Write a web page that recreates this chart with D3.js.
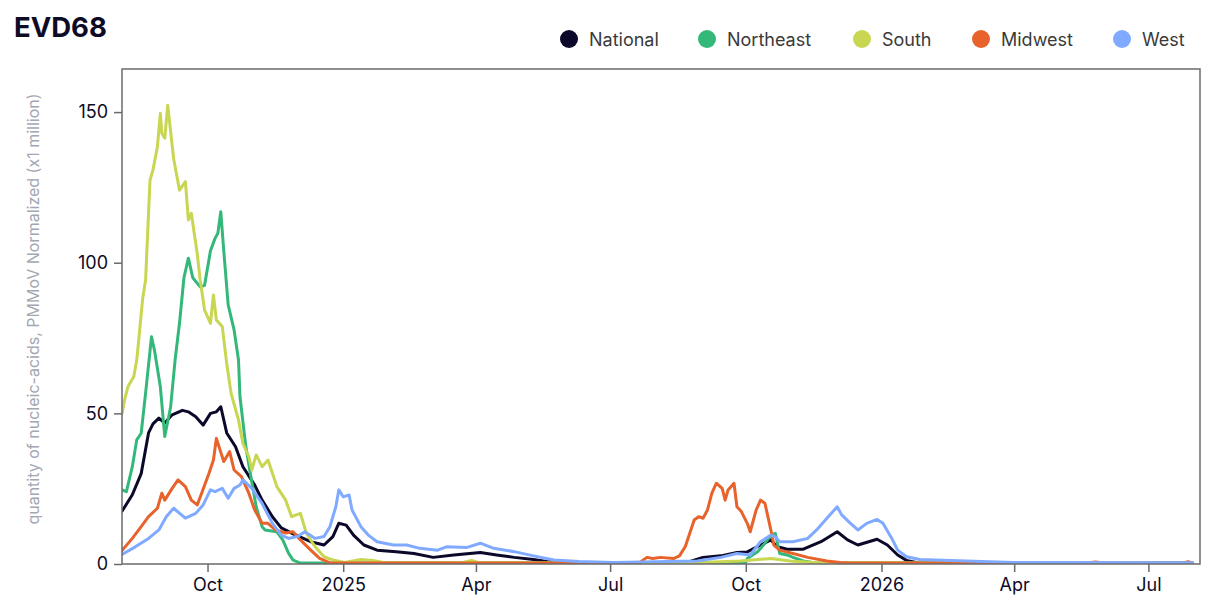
<!DOCTYPE html>
<html><head><meta charset="utf-8">
<script src="https://cdn.jsdelivr.net/npm/d3@7"></script>
<style>
body{margin:0;background:#fff;font-family:Inter,"Noto Sans",sans-serif;}
</style></head><body>
<svg id="chart" width="1232" height="616"></svg>
<script>
const seriesNames = ["National","Northeast","South","Midwest","West"];
const seriesColors = ["#0b0829","#34b87a","#c9d651","#e8632b","#80aaff"];
const xTickDates = ["2024-10-01","2025-01-01","2025-04-01","2025-07-01","2025-10-01","2026-01-01","2026-04-01","2026-07-01"];
const yTicks = [0,50,100,150];

const national = [["2024-08-04",17.5],["2024-08-11",23],["2024-08-17",30],["2024-08-22",43.5],["2024-08-25",46.5],["2024-08-29",48.4],["2024-09-02",46.8],["2024-09-07",49.5],["2024-09-14",51],["2024-09-18",50.5],["2024-09-23",48.9],["2024-09-28",46.1],["2024-10-03",50],["2024-10-07",50.5],["2024-10-10",52.2],["2024-10-14",43.5],["2024-10-20",38.9],["2024-10-25",32.3],["2024-11-02",26.2],["2024-11-07",21.2],["2024-11-14",15.7],["2024-11-20",12],["2024-11-28",10],["2024-12-10",7.4],["2024-12-19",6.3],["2024-12-25",9.1],["2024-12-29",13.5],["2025-01-03",12.9],["2025-01-08",9.6],["2025-01-15",6.3],["2025-01-24",4.6],["2025-02-06",4.1],["2025-02-18",3.5],["2025-03-03",2.2],["2025-03-17",3],["2025-04-04",3.8],["2025-04-15",3],["2025-04-27",2.2],["2025-05-10",1.5],["2025-05-19",0.8],["2025-06-04",0.3],["2025-07-21",0.3],["2025-08-22",0.5],["2025-09-02",2.2],["2025-09-14",2.7],["2025-09-25",3.8],["2025-10-02",4],["2025-10-11",6.3],["2025-10-18",8],["2025-10-22",5.8],["2025-10-29",4.9],["2025-11-09",4.9],["2025-11-21",7.4],["2025-12-02",10.7],["2025-12-09",8],["2025-12-16",6.3],["2025-12-29",8.2],["2026-01-05",6.3],["2026-01-12",3],["2026-01-18",1.2],["2026-01-27",0.3],["2026-07-31",0.3]];

const northeast = [["2024-08-04",24.6],["2024-08-07",24],["2024-08-11",32.3],["2024-08-14",41.2],["2024-08-17",43.4],["2024-08-20",56.7],["2024-08-24",75.4],["2024-08-26",71],["2024-08-30",58.8],["2024-09-02",42.3],["2024-09-06",52.2],["2024-09-09",67.7],["2024-09-12",80],["2024-09-15",95],["2024-09-18",101.5],["2024-09-21",95],["2024-09-26",92],["2024-09-29",92.5],["2024-10-03",104],["2024-10-06",108],["2024-10-08",109.8],["2024-10-10",116.9],["2024-10-12",104],["2024-10-15",86],["2024-10-19",77.7],["2024-10-22",67.7],["2024-10-23",55.5],["2024-10-27",38.9],["2024-10-30",30.1],["2024-11-03",19],["2024-11-07",12.4],["2024-11-09",11.3],["2024-11-17",10.7],["2024-11-21",8],["2024-11-25",3.5],["2024-11-28",1.3],["2024-12-03",0.3],["2025-08-15",0.3],["2025-10-01",0.5],["2025-10-02",1.8],["2025-10-09",4.1],["2025-10-13",6.3],["2025-10-18",9.6],["2025-10-21",10.2],["2025-10-24",3.5],["2025-10-29",3],["2025-11-02",2.2],["2025-11-09",1],["2025-11-17",0.3],["2026-07-31",0.3]];

const south = [["2024-08-04",50],["2024-08-06",55],["2024-08-08",58.8],["2024-08-12",62.2],["2024-08-14",67.7],["2024-08-16",77.7],["2024-08-18",88],["2024-08-20",94.3],["2024-08-22",116.4],["2024-08-23",127.4],["2024-08-25",130.8],["2024-08-28",138.5],["2024-08-30",149.6],["2024-08-31",143],["2024-09-02",141.3],["2024-09-04",152.3],["2024-09-08",134.6],["2024-09-12",124.1],["2024-09-16",126.9],["2024-09-18",114.2],["2024-09-20",116.4],["2024-09-24",103.1],["2024-09-26",94.3],["2024-09-29",84.3],["2024-10-03",79.9],["2024-10-05",89.3],["2024-10-07",81],["2024-10-11",78.8],["2024-10-14",66.6],["2024-10-17",56.6],["2024-10-22",47.8],["2024-10-25",40],["2024-10-29",35.6],["2024-10-31",31.2],["2024-11-03",36.2],["2024-11-07",32.3],["2024-11-11",34.5],["2024-11-17",25.7],["2024-11-23",21.2],["2024-11-27",15.7],["2024-12-03",16.8],["2024-12-07",10.2],["2024-12-13",5.7],["2024-12-19",2.4],["2024-12-25",1.3],["2025-01-02",0.5],["2025-01-13",1.5],["2025-01-21",1.2],["2025-01-29",0.4],["2025-03-21",0.3],["2025-03-29",1.2],["2025-04-04",0.3],["2025-08-31",0.5],["2025-09-27",1],["2025-10-18",1.8],["2025-10-31",1],["2025-11-21",0.3],["2026-07-31",0.3]];

const midwest = [["2024-08-04",4.5],["2024-08-11",8.5],["2024-08-17",12.4],["2024-08-22",15.7],["2024-08-28",18.5],["2024-08-31",23.5],["2024-09-02",21.2],["2024-09-07",25.1],["2024-09-11",27.9],["2024-09-16",25.7],["2024-09-20",21.2],["2024-09-24",19.6],["2024-09-27",23.5],["2024-10-02",30.1],["2024-10-05",34.5],["2024-10-07",41.7],["2024-10-12",34],["2024-10-16",37.3],["2024-10-19",31.2],["2024-10-24",29],["2024-10-29",23.5],["2024-11-02",17.9],["2024-11-07",13.5],["2024-11-11",13.5],["2024-11-16",11.3],["2024-11-23",10.3],["2024-11-28",10.7],["2024-12-03",8],["2024-12-10",4.6],["2024-12-16",1.9],["2024-12-23",0.4],["2025-07-08",0.3],["2025-07-21",0.5],["2025-07-26",2.2],["2025-07-30",1.8],["2025-08-04",2.2],["2025-08-13",1.8],["2025-08-17",2.7],["2025-08-21",5.8],["2025-08-24",10.2],["2025-08-27",14.6],["2025-08-30",15.7],["2025-09-02",15.2],["2025-09-05",17.9],["2025-09-08",23.5],["2025-09-11",26.8],["2025-09-15",25.1],["2025-09-17",21.2],["2025-09-19",24.6],["2025-09-23",26.8],["2025-09-25",19],["2025-09-28",17.4],["2025-10-02",13.5],["2025-10-04",10.7],["2025-10-08",17.9],["2025-10-11",21.2],["2025-10-14",20.1],["2025-10-18",11.3],["2025-10-20",6.3],["2025-10-24",4.6],["2025-11-02",3.5],["2025-11-12",2.2],["2025-11-25",1],["2025-12-04",0.5],["2025-12-11",0.3],["2026-05-20",0.3],["2026-05-26",0.7],["2026-06-01",0.3],["2026-07-24",0.3],["2026-07-28",0.8],["2026-07-31",0.3]];

const west = [["2024-08-04",3.2],["2024-08-13",5.7],["2024-08-22",8.5],["2024-08-29",11.3],["2024-09-03",15.7],["2024-09-08",18.5],["2024-09-16",15.2],["2024-09-23",16.8],["2024-09-28",19.6],["2024-10-03",24.6],["2024-10-06",24],["2024-10-11",25.1],["2024-10-15",21.8],["2024-10-19",25.1],["2024-10-23",26.2],["2024-10-25",27.9],["2024-10-31",25.1],["2024-11-07",20.1],["2024-11-14",13.5],["2024-11-20",9.6],["2024-11-25",8.5],["2024-12-01",9.1],["2024-12-06",10.7],["2024-12-13",8.5],["2024-12-19",9.1],["2024-12-23",12.4],["2024-12-27",19],["2024-12-29",24.6],["2025-01-01",22.3],["2025-01-05",22.9],["2025-01-07",17.9],["2025-01-13",12.4],["2025-01-18",9.6],["2025-01-24",7.4],["2025-02-04",6.3],["2025-02-13",6.3],["2025-02-22",5.2],["2025-03-06",4.6],["2025-03-12",5.7],["2025-03-26",5.5],["2025-04-04",6.9],["2025-04-13",5.2],["2025-04-27",4.1],["2025-05-10",2.7],["2025-05-24",1.3],["2025-06-10",0.8],["2025-07-03",0.5],["2025-08-29",1],["2025-09-14",2.2],["2025-09-25",3.5],["2025-10-04",3],["2025-10-11",7.4],["2025-10-18",9.6],["2025-10-21",9],["2025-10-24",7.4],["2025-11-02",7.4],["2025-11-12",8.5],["2025-11-18",11.3],["2025-11-25",15.2],["2025-12-02",19],["2025-12-05",16.3],["2025-12-11",13.5],["2025-12-16",11.3],["2025-12-22",13.5],["2025-12-29",14.8],["2026-01-02",13.5],["2026-01-08",8.5],["2026-01-12",4.6],["2026-01-18",2.4],["2026-01-27",1.5],["2026-03-10",0.8],["2026-04-01",0.5],["2026-07-31",0.4]];

const seriesData = [national, northeast, south, midwest, west];

const parse = d3.timeParse("%Y-%m-%d");
const svg = d3.select("#chart");
const pL = 122, pR = 1200, pT = 69, pB = 564;

const x = d3.scaleTime().domain([parse("2024-08-04"), parse("2026-08-05")]).range([pL, pR]);
const y = d3.scaleLinear().domain([0, 164.3]).range([pB, pT]);

// title
svg.append("text").attr("x", 14).attr("y", 37).text("EVD68")
  .attr("font-size", 27.5).attr("font-weight", 700).attr("fill", "#0d0b26");

// legend
const legendX = [569, 707, 862, 981, 1122];
seriesNames.forEach((n, i) => {
  const g = svg.append("g").attr("transform", `translate(${legendX[i]},39)`);
  g.append("circle").attr("r", 9).attr("fill", seriesColors[i]);
  g.append("text").attr("x", 20).attr("y", 6.5).text(n)
    .attr("font-size", 18).attr("fill", "#3a3a3a");
});

// clip
svg.append("clipPath").attr("id", "clip").append("rect")
  .attr("x", pL).attr("y", pT).attr("width", pR - pL).attr("height", pB - pT);

const line = d3.line().x(d => x(parse(d[0]))).y(d => y(d[1]));
const gLines = svg.append("g").attr("clip-path", "url(#clip)");
seriesData.forEach((s, i) => {
  gLines.append("path").datum(s).attr("d", line).attr("fill", "none")
    .attr("stroke", seriesColors[i]).attr("stroke-width", 3)
    .attr("stroke-linejoin", "round").attr("stroke-linecap", "round");
});

// frame
svg.append("rect").attr("x", pL).attr("y", pT).attr("width", pR - pL).attr("height", pB - pT)
  .attr("fill", "none").attr("stroke", "#6b6b6b").attr("stroke-width", 1.5);

// axes
const monthFmt = d3.timeFormat("%b"), yearFmt = d3.timeFormat("%Y");
const xAxis = d3.axisBottom(x).tickValues(xTickDates.map(parse))
  .tickFormat(d => d.getMonth() === 0 ? yearFmt(d) : monthFmt(d)).tickSize(8).tickPadding(6);
const gx = svg.append("g").attr("transform", `translate(0,${pB})`).call(xAxis);
gx.select(".domain").remove();
gx.selectAll(".tick line").attr("stroke", "#6b6b6b").attr("stroke-width", 1.5);
gx.selectAll(".tick text").attr("font-size", 18).attr("fill", "#0d0b26").attr("font-family", "Inter, sans-serif");

const yAxis = d3.axisLeft(y).tickValues(yTicks).tickSize(8).tickPadding(6);
const gy = svg.append("g").attr("transform", `translate(${pL},0)`).call(yAxis);
gy.select(".domain").remove();
gy.selectAll(".tick line").attr("stroke", "#6b6b6b").attr("stroke-width", 1.5);
gy.selectAll(".tick text").attr("font-size", 18).attr("fill", "#0d0b26").attr("font-family", "Inter, sans-serif");

svg.append("text").attr("transform", `translate(39,309) rotate(-90)`)
  .attr("text-anchor", "middle").attr("font-size", 16).attr("fill", "#a3a7b3")
  .text("quantity of nucleic-acids, PMMoV Normalized (x1 million)");
</script></body></html>
